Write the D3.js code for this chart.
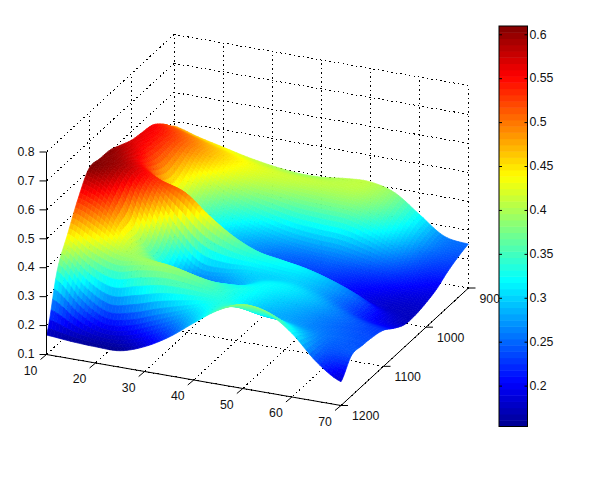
<!DOCTYPE html>
<html>
<head>
<meta charset="utf-8">
<style>
  body { margin: 0; background: #fff; }
  text { font-family: "Liberation Sans", Arial, sans-serif; font-size: 12.3px; fill: #111; }
</style>
<script src="https://cdn.jsdelivr.net/npm/d3@7"></script>
</head>
<body>
<div id="chart"></div>
<script>
let xValues = [10, 15, 20, 25, 30, 35, 40, 45, 50, 55, 60, 65, 70];
let yValues = [900, 925, 950, 975, 1000, 1025, 1050, 1075, 1100, 1125, 1150, 1175, 1200];

// z, one row per y
let z900  = [.484, .46,  .44,  .42,  .405, .395, .395, .405, .408, .385, .325, .265, .252];
let z925  = [.524, .50,  .47,  .445, .425, .415, .41,  .405, .40,  .37,  .315, .26,  .24];
let z950  = [.555, .52,  .475, .43,  .40,  .385, .37,  .365, .36,  .33,  .285, .24,  .222];
let z975  = [.563, .52,  .44,  .38,  .34,  .31,  .29,  .28,  .275, .26,  .24,  .215, .198];
let z1000 = [.57,  .52,  .42,  .35,  .30,  .27,  .25,  .24,  .235, .22,  .205, .19,  .184];
let z1025 = [.587, .54,  .45,  .38,  .33,  .285, .255, .24,  .23,  .215, .195, .18,  .176];
let z1050 = [.604, .57,  .53,  .50,  .43,  .375, .34,  .325, .31,  .285, .25,  .20,  .177];
let z1075 = [.607, .585, .50,  .37,  .29,  .285, .30,  .30,  .30,  .28,  .245, .21,  .198];
let z1100 = [.608, .56,  .42,  .33,  .27,  .265, .285, .315, .315, .295, .265, .24,  .225];
let z1125 = [.54,  .50,  .42,  .37,  .34,  .325, .33,  .325, .30,  .28,  .26,  .245, .236];
let z1150 = [.45,  .40,  .37,  .385, .39,  .375, .35,  .32,  .29,  .28,  .265, .25,  .24];
let z1175 = [.355, .27,  .22,  .23,  .26,  .29,  .32,  .34,  .33,  .32,  .29,  .245, .24];
let z1200 = [.167, .16,  .156, .157, .186, .234, .297, .356, .39,  .376, .32,  .236, .182];
let zRows = [z900, z925, z950, z975, z1000, z1025, z1050, z1075, z1100, z1125, z1150, z1175, z1200];

let xTicks = [10, 20, 30, 40, 50, 60, 70];
let yTicks = [900, 1000, 1100, 1200];
let zTicks = [0.1, 0.2, 0.3, 0.4, 0.5, 0.6, 0.7, 0.8];
let barTicks = [0.2, 0.25, 0.3, 0.35, 0.4, 0.45, 0.5, 0.55, 0.6];
let colorRange = [0.154, 0.61];

const width = 596, height = 490;

const svg = d3.select("#chart")
  .append("svg")
  .attr("width", width)
  .attr("height", height)
  .style("display", "block");

// fixed oblique view: floor position from x and y, then z lifts straight up
let sxFromX = d3.scaleLinear().domain([10, 70]).range([46.5, 341]);
let sxFromY = d3.scaleLinear().domain([1200, 900]).range([0, 127.5]);
let syFromX = d3.scaleLinear().domain([10, 70]).range([354.5, 405.5]);
let syFromY = d3.scaleLinear().domain([1200, 900]).range([0, -117.5]);
let liftFromZ = d3.scaleLinear().domain([0.1, 0.8]).range([0, -202.5]);

function project(x, y, z) {
  return [sxFromX(x) + sxFromY(y), syFromX(x) + syFromY(y) + liftFromZ(z)];
}

// jet colormap, 64 steps on the colorbar
let jet = d3.scaleLinear()
  .domain([0, 0.11, 0.365, 0.625, 0.875, 1])
  .range(["#00008f", "#0000ff", "#00ffff", "#ffff00", "#ff0000", "#800000"])
  .clamp(true);
let jetSteps = d3.range(64).map(i => jet((i + 0.5) / 64));
let colorT = d3.scaleLinear().domain(colorRange).range([0, 1]);
let color = z => jet(colorT(z));

function drawLine(g, a, b) {
  let p = project(...a), q = project(...b);
  return g.append("line")
    .attr("x1", p[0]).attr("y1", p[1])
    .attr("x2", q[0]).attr("y2", q[1])
    .attr("stroke", "#000");
}

// dotted walls and floor
let grid = svg.append("g")
  .attr("stroke-dasharray", "1.5,3")
  .attr("shape-rendering", "crispEdges");
for (let t of xTicks) {
  drawLine(grid, [t, 900, 0.1], [t, 1200, 0.1]);
  drawLine(grid, [t, 900, 0.1], [t, 900, 0.8]);
}
for (let t of yTicks) {
  drawLine(grid, [10, t, 0.1], [70, t, 0.1]);
  drawLine(grid, [10, t, 0.1], [10, t, 0.8]);
}
for (let t of zTicks) {
  drawLine(grid, [10, 900, t], [70, 900, t]);
  drawLine(grid, [10, 900, t], [10, 1200, t]);
}

// smooth shading between the grid values
function catmull(a, b, c, d, t) {
  return b + 0.5 * t * (c - a + t * (2 * a - 5 * b + 4 * c - d + t * (3 * (b - c) + d - a)));
}
function zAt(i, j, s, t) {
  let rowAt = k => zRows[Math.max(0, Math.min(zRows.length - 1, k))];
  let cols = [-1, 0, 1, 2].map(r => {
    let row = rowAt(i + r);
    let pick = k => row[Math.max(0, Math.min(row.length - 1, k))];
    return catmull(pick(j - 1), pick(j), pick(j + 1), pick(j + 2), t);
  });
  return catmull(cols[0], cols[1], cols[2], cols[3], s);
}

const steps = 7;
let cells = [];
let fineY = [], fineX = [];
for (let i = 0; i < yValues.length - 1; i++) {
  for (let s = 0; s < steps; s++) fineY.push([i, s / steps]);
}
fineY.push([yValues.length - 2, 1]);
for (let j = 0; j < xValues.length - 1; j++) {
  for (let t = 0; t < steps; t++) fineX.push([j, t / steps]);
}
fineX.push([xValues.length - 2, 1]);

let fine = fineY.map(([i, s]) => fineX.map(([j, t]) => {
  let y = yValues[i] + s * (yValues[i + 1] - yValues[i]);
  let x = xValues[j] + t * (xValues[j + 1] - xValues[j]);
  let z = zAt(i, j, s, t);
  return { p: project(x, y, z), z: z };
}));

// back row first, left to right, so nearer cells paint over farther ones
for (let a = 0; a < fine.length - 1; a++) {
  for (let b = 0; b < fine[a].length - 1; b++) {
    let c = [fine[a][b], fine[a][b + 1], fine[a + 1][b + 1], fine[a + 1][b]];
    cells.push({ pts: c.map(d => d.p), z: d3.mean(c, d => d.z) });
  }
}

svg.append("g")
  .selectAll("path")
  .data(cells)
  .join("path")
  .attr("d", d => "M" + d.pts.join("L") + "Z")
  .attr("fill", d => color(d.z))
  .attr("stroke", d => color(d.z))
  .attr("stroke-width", 0.7);

// solid front axes
let axes = svg.append("g");
drawLine(axes, [10, 1200, 0.1], [70, 1200, 0.1]);
drawLine(axes, [70, 1200, 0.1], [70, 900, 0.1]);
drawLine(axes, [10, 1200, 0.1], [10, 1200, 0.8]);

for (let t of xTicks) {
  let p = project(t, 1200, 0.1);
  axes.append("line")
    .attr("x1", p[0]).attr("y1", p[1])
    .attr("x2", p[0] - 6).attr("y2", p[1] + 5)
    .attr("stroke", "#000");
  axes.append("text")
    .text(t)
    .attr("x", p[0] - 16)
    .attr("y", p[1] + 17)
    .attr("text-anchor", "middle")
    .attr("dominant-baseline", "middle");
}
for (let t of yTicks) {
  let p = project(70, t, 0.1);
  axes.append("line")
    .attr("x1", p[0]).attr("y1", p[1])
    .attr("x2", p[0] + 7).attr("y2", p[1])
    .attr("stroke", "#000");
  axes.append("text")
    .text(t)
    .attr("x", p[0] + 11)
    .attr("y", p[1] + 11.5)
    .attr("dominant-baseline", "middle");
}
for (let t of zTicks) {
  let p = project(10, 1200, t);
  axes.append("line")
    .attr("x1", p[0]).attr("y1", p[1])
    .attr("x2", p[0] - 7).attr("y2", p[1])
    .attr("stroke", "#000");
  axes.append("text")
    .text(t)
    .attr("x", p[0] - 12)
    .attr("y", p[1] + 0.5)
    .attr("text-anchor", "end")
    .attr("dominant-baseline", "middle");
}

// colorbar
let barX = d3.scaleLinear().domain([0, 1]).range([499, 527.5]);
let barY = d3.scaleLinear().domain(colorRange).range([426.5, 26]);
let bar = svg.append("g");
let barLevels = d3.range(64).map(i => colorRange[0] + i * (colorRange[1] - colorRange[0]) / 64);
bar.selectAll("rect")
  .data(barLevels)
  .join("rect")
  .attr("x", barX(0))
  .attr("width", barX(1) - barX(0))
  .attr("y", d => barY(d + (colorRange[1] - colorRange[0]) / 64))
  .attr("height", (barY.range()[0] - barY.range()[1]) / 64 + 0.5)
  .attr("fill", (d, i) => jetSteps[i]);
bar.append("rect")
  .attr("x", barX(0))
  .attr("y", barY.range()[1])
  .attr("width", barX(1) - barX(0))
  .attr("height", barY.range()[0] - barY.range()[1])
  .attr("fill", "none")
  .attr("stroke", "#000");
for (let t of barTicks) {
  bar.append("line")
    .attr("x1", barX(0)).attr("x2", barX(0) + 3)
    .attr("y1", barY(t)).attr("y2", barY(t))
    .attr("stroke", "#000");
  bar.append("line")
    .attr("x1", barX(1) - 3).attr("x2", barX(1))
    .attr("y1", barY(t)).attr("y2", barY(t))
    .attr("stroke", "#000");
  bar.append("text")
    .text(t)
    .attr("x", barX(1) + 2)
    .attr("y", barY(t) + 0.5)
    .attr("dominant-baseline", "middle");
}
</script>
</body>
</html>
